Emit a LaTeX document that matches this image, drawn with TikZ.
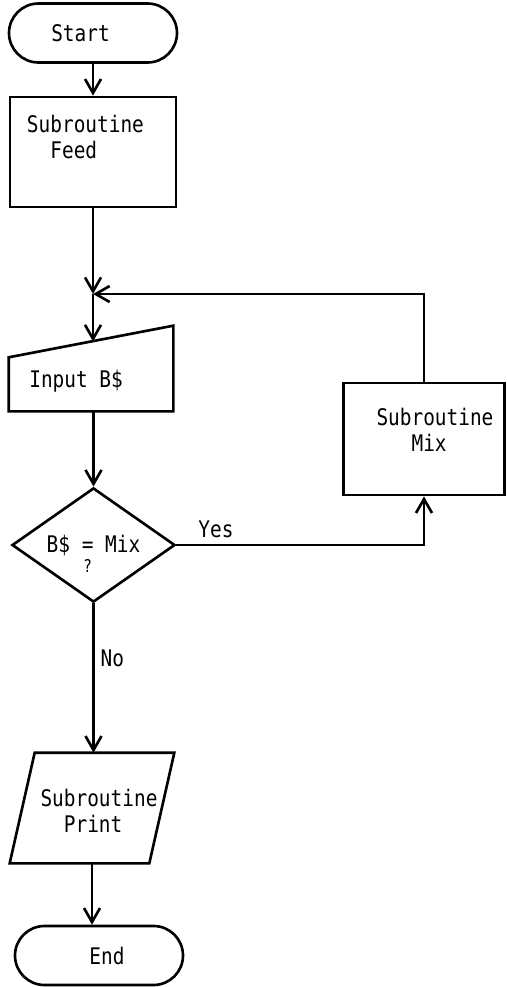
\documentclass[tikz,border=0pt]{standalone}
\usepackage{fontspec}
\newfontfamily\chartfont[FakeStretch=0.85]{DejaVu Sans Mono}
\usetikzlibrary{shapes.geometric,arrows.meta,calc}
\tikzset{
  term/.style={draw, rounded corners=0.59cm, minimum width=3.36cm, minimum height=1.18cm},
  box/.style={draw, minimum width=3.32cm, minimum height=2.2cm},
  decide/.style={draw, diamond, inner sep=0pt, minimum width=3.26cm, minimum height=2.22cm},
  txt/.style={inner sep=0pt, align=left},
}
\newcommand{\qeq}{\smash{\begin{tabular}[t]{@{}c@{}}=\\[-0.5ex]{\fontsize{10}{10}\selectfont ?}\end{tabular}}}
\begin{document}
\begin{tikzpicture}[line width=1.5pt, >={Straight Barb[length=2.8mm,width=3.2mm]}, font=\chartfont\fontsize{13}{15}\selectfont]
\useasboundingbox (0,0) rectangle (10.12,-19.74);
% blocks
\node[term] (start) at (1.86,-0.66) {Start\hspace*{0.5cm}};
\node[box] (feed) at (1.86,-3.04) {};
\node[txt, anchor=north west] (feedtxt) at ([shift={(0.34,-0.36)}]feed.north west) {Subroutine\\\phantom{xx}Feed};
\coordinate (junction) at (1.86,-5.88);
\node[box, draw=none, minimum width=3.24cm, minimum height=1.66cm] (input) at (1.82,-7.37) {};
\coordinate (intl) at ([yshift=1.08cm]input.south west);
\coordinate (inslant) at ($(intl)!0.5!(input.north east)$);
\draw (input.south west) -- (intl) -- (input.north east) -- (input.south east) -- cycle;
\node[txt, anchor=base west] (inputtxt) at (0.56,-7.74) {Input B\$};
\node[decide] (decision) at (1.87,-10.9) {B\$ \qeq{} Mix};
\node[box, minimum width=3.22cm, minimum height=2.24cm] (mix) at (8.48,-8.78) {};
\node[txt, anchor=north west] (mixtxt) at ([shift={(0.66,-0.5)}]mix.north west) {Subroutine\\\phantom{xxx}Mix};
\node[box, draw=none, minimum width=3.24cm, minimum height=2.16cm] (print) at (1.84,-16.16) {};
\draw (print.south west) -- ([xshift=-0.5cm]print.south east) -- (print.north east) -- ([xshift=0.5cm]print.north west) -- cycle;
\node[txt] (printtxt) at ([shift={(0.14,-0.06)}]print.center) {Subroutine\\\phantom{xx}Print};
\node[term] (end) at (1.98,-19.11) {\hspace*{0.32cm}End};
% connectors
\draw[->] (start) -- (feed);
\draw[->] (feed) -- (junction);
\draw[->] (junction) -- (junction |- inslant);
\draw[->] (input.south -| decision.north) -- (decision.north);
\draw[->] (decision) -| node[pos=0.08, above] {Yes} (mix);
\draw[->] (mix) |- (junction);
\draw[->] (decision.south) -- node[pos=0.37, right] {No} (decision.south |- print.north);
\draw[->] (print.south) -- (print.south |- end.north);
\end{tikzpicture}
\end{document}
